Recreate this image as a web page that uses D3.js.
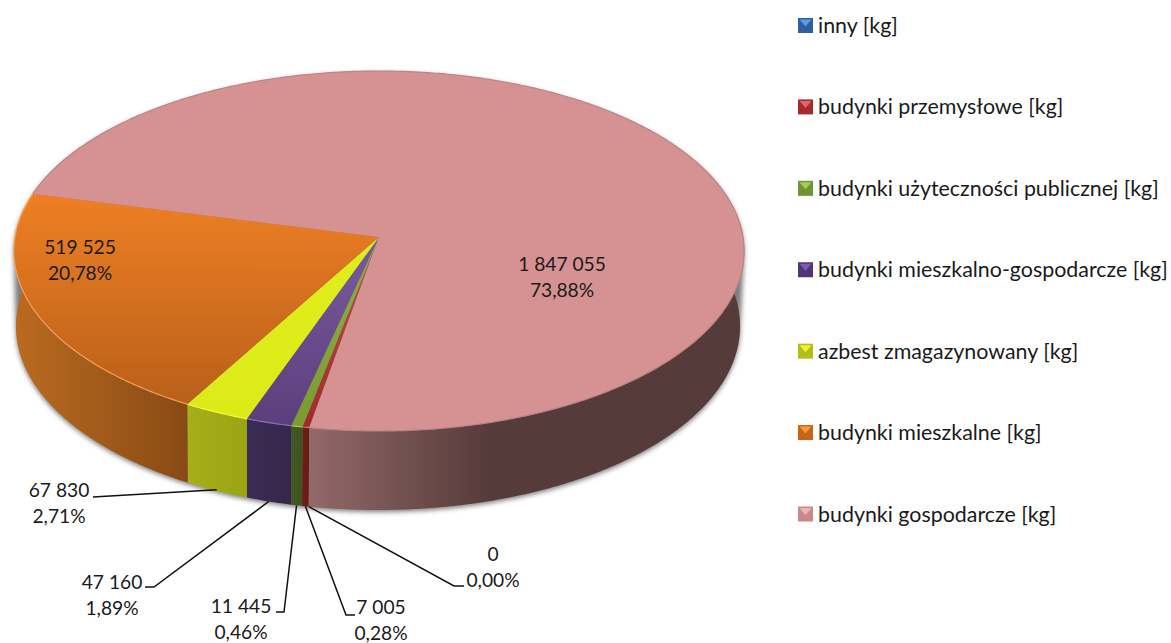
<!DOCTYPE html>
<html>
<head>
<meta charset="utf-8">
<script src="https://cdn.jsdelivr.net/npm/d3@7"></script>
<style>
  html, body { margin: 0; padding: 0; background: #fff; }
  text { font-family: Lato, "Open Sans", sans-serif; fill: #1a1a1a; }
</style>
</head>
<body>
<div id="chart"></div>
<script>
// data, clockwise from the start of the pie
const categories = ["inny [kg]", "budynki przemysłowe [kg]", "budynki użyteczności publicznej [kg]",
  "budynki mieszkalno-gospodarcze [kg]", "azbest zmagazynowany [kg]", "budynki mieszkalne [kg]", "budynki gospodarcze [kg]"];
const values = [0, 7005, 11445, 47160, 67830, 519525, 1847055];

// colours per series
const topColors = [["#4f81bd", "#4f81bd"], ["#c0504d", "#a02b28"], ["#8cb23f", "#7a9a34"], ["#7a5a9e", "#5b3f7c"],
  ["#e0ee1c", "#dcea18"], ["#ee7f24", "#b9601a"], ["#d69292", "#d69292"]];
const sideColors = [["#2c4d75", "#2c4d75"], ["#701d1c", "#661a18"], ["#445822", "#3f531f"], ["#3c2b54", "#36274c"],
  ["#a6ae18", "#9ca414"], ["#bb6b20", "#884a14"], ["#936868", "#553b3a"]];
const edgeColors = ["#6f9bd1", "#d9716e", "#a5c95c", "#8a70b5", "#f6fa3a", "#f6a055", "#bc8484"];
const legendColors = [["#5b9ae0", "#2f5f9e"], ["#e06464", "#a52a2a"], ["#a8cc50", "#6f9433"], ["#7f5cab", "#4f3578"],
  ["#ecf52a", "#b4bc18"], ["#f79a35", "#c4651a"], ["#eeb4b4", "#cc8888"]];

// label placement, by series index
const labelPos = [[493, 554], [381, 607], [241, 606], [112, 582], [59, 490], [80, 247], [562, 264]];
const leaderElbows = [[[464, 586], [454, 586]], [[355, 615], [346, 615]], [[276, 612], [284, 612]],
  [[145, 587], [154, 587]], [[93, 497], [93, 497]], null, null];

const width = 1171, height = 643;
const deg = Math.PI / 180;
const k = 0.0778;               // perspective of the pie plane
const startAngle = 190.2 * deg;

const locale = d3.formatLocale({ decimal: ",", thousands: " ", grouping: [3], currency: ["", ""] });
const fmtValue = locale.format(",d");
const fmtPct = locale.format(".2%");
const total = d3.sum(values);

const svg = d3.select("#chart").append("svg")
  .attr("width", width).attr("height", height)
  .style("display", "block");
const defs = svg.append("defs");

defs.append("filter").attr("id", "soft")
  .attr("x", "-5%").attr("y", "-5%").attr("width", "110%").attr("height", "110%")
  .append("feGaussianBlur").attr("stdDeviation", 2.5);

// top face and bottom rim of the cylinder
const topX = d3.scaleLinear().domain([-1, 1]).range([379 - 364, 379 + 364]);
const topY = d3.scaleLinear().domain([-1, 1]).range([237 - 178.9, 237 + 178.9]);
const botX = d3.scaleLinear().domain([-1, 1]).range([378 - 361, 378 + 361]);
const botY = d3.scaleLinear().domain([-1, 1]).range([312 - 182.6, 312 + 182.6]);

function project(a, sx, sy, r) {
  const rr = r === undefined ? 1 : r;
  const u = rr * Math.sin(a), v = -rr * Math.cos(a);
  const w = 1 - k * v;
  return [sx(u / w), sy(v / w)];
}
const topPt = (a, r) => project(a, topX, topY, r);
const botPt = a => project(a, botX, botY);

function samples(a0, a1) {
  const n = Math.max(2, Math.ceil((a1 - a0) / (0.5 * deg)));
  return d3.range(n + 1).map(i => a0 + (a1 - a0) * i / n);
}

const line = d3.line();
const pie = d3.pie().value(d => d).sort(null)
  .startAngle(startAngle).endAngle(startAngle + 2 * Math.PI);
const arcs = pie(values);

// shadow under the whole shape
const rim = samples(0, 2 * Math.PI);
const shadowPts = d3.polygonHull(rim.map(a => topPt(a)).concat(rim.map(a => botPt(a))));
svg.append("path")
  .attr("d", line(shadowPts) + "Z")
  .attr("fill", "#444")
  .attr("opacity", 0.7)
  .attr("transform", "translate(0,2)")
  .attr("filter", "url(#soft)");

// side wall, only the front half is ever visible
function visibleRanges(d) {
  const out = [];
  [0, 360].forEach(shift => {
    const lo = Math.max(d.startAngle, (80 + shift) * deg);
    const hi = Math.min(d.endAngle, (280 + shift) * deg);
    if (hi > lo) out.push([lo, hi]);
  });
  return out;
}

const sides = svg.append("g");
arcs.forEach((d, i) => {
  const ranges = visibleRanges(d);
  ranges.forEach(([a0, a1]) => {
    const as = samples(a0, a1);
    const pts = as.map(a => topPt(a)).concat(as.slice().reverse().map(a => botPt(a)));
    const xs = pts.map(p => p[0]);
    // pink wall goes dark quickly and stays flat, the others fade over their width
    const isBig = i === 6;
    const x0 = isBig ? 310 : d3.min(xs), x1 = isBig ? 490 : d3.max(xs);
    const id = "side" + i;
    const g = defs.append("linearGradient").attr("id", id)
      .attr("gradientUnits", "userSpaceOnUse")
      .attr("x1", x0).attr("x2", x1).attr("y1", 0).attr("y2", 0);
    g.append("stop").attr("offset", 0).attr("stop-color", sideColors[i][0]);
    g.append("stop").attr("offset", 1).attr("stop-color", sideColors[i][1]);
    sides.append("path").attr("d", line(pts) + "Z").attr("fill", `url(#${id})`);
  });
});

// top face
const tops = svg.append("g");
arcs.forEach((d, i) => {
  if (d.endAngle - d.startAngle <= 0) return;
  const as = samples(d.startAngle, d.endAngle);
  const pts = [topPt(0, 0)].concat(as.map(a => topPt(a)));
  const id = "top" + i;
  const ys = pts.map(p => p[1]);
  const g = defs.append("linearGradient").attr("id", id)
    .attr("gradientUnits", "userSpaceOnUse")
    .attr("x1", 0).attr("x2", 0).attr("y1", d3.min(ys)).attr("y2", d3.max(ys));
  g.append("stop").attr("offset", 0).attr("stop-color", topColors[i][0]);
  g.append("stop").attr("offset", 1).attr("stop-color", topColors[i][1]);
  tops.append("path").attr("d", line(pts) + "Z").attr("fill", `url(#${id})`);
  // thin bevel along the outer rim
  tops.append("path").attr("d", line(as.map(a => topPt(a))))
    .attr("fill", "none").attr("stroke", edgeColors[i]).attr("stroke-width", 1.2);
});

// leader lines
const leaders = svg.append("g").attr("fill", "none").attr("stroke", "#111").attr("stroke-width", 1.5);
arcs.forEach((d, i) => {
  if (!leaderElbows[i]) return;
  const mid = (d.startAngle + d.endAngle) / 2;
  const end = botPt(mid);
  // azbest leader stops a little inside the wall
  const tip = i === 4 ? [end[0], end[1] - 1] : end;
  leaders.append("path").attr("d", line(leaderElbows[i].concat([tip])));
});

// data labels
const labels = svg.append("g").attr("text-anchor", "middle").attr("font-size", 19.2);
arcs.forEach((d, i) => {
  const [x, y] = labelPos[i];
  labels.append("text").attr("x", x).attr("y", y).attr("dy", "0.35em").text(fmtValue(d.data));
  labels.append("text").attr("x", x).attr("y", y + 26.5).attr("dy", "0.35em").text(fmtPct(d.data / total));
});

// legend
const legendY = d3.scalePoint().domain(d3.range(categories.length)).range([25.5, 514]);
const legend = svg.append("g").selectAll("g").data(categories).enter().append("g")
  .attr("transform", (d, i) => `translate(798,${legendY(i) - 7.5})`);
legend.append("rect").attr("width", 15).attr("height", 15)
  .attr("fill", (d, i) => legendColors[i][1]);
legend.append("path").attr("d", "M1.5,1.5H13.5L7.5,8.5Z")
  .attr("fill", (d, i) => legendColors[i][0]);
legend.append("text").attr("x", 20).attr("y", 7.5).attr("dy", "0.35em")
  .attr("font-size", 21.4).text(d => d);
</script>
</body>
</html>
